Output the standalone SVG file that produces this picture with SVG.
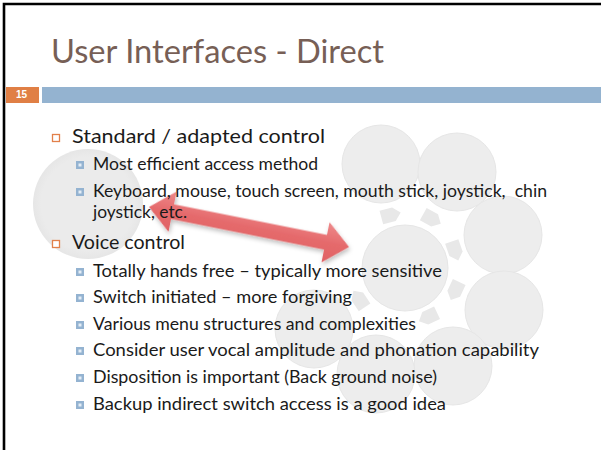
<svg xmlns="http://www.w3.org/2000/svg" width="601" height="450" viewBox="0 0 601 450">
<style>
  .t1 { font-family: "Lato", "Liberation Sans", sans-serif; font-size: 20px; fill: #1a1a1a; }
  .t2 { font-family: "Lato", "Liberation Sans", sans-serif; font-size: 18px; fill: #1a1a1a; }
  .circ { fill: #ededed; stroke: #e6e6e6; stroke-width: 1; }
  .chev { fill: #e8e8e8; }
  .b1 { fill: #ffffff; stroke: #e2804a; stroke-width: 1.3; }
  .b2 { fill: #94b3d1; }
  .b2i { fill: #e4edf6; }
</style>
<defs>
  <radialGradient id="lc" cx="0.5" cy="0.5" r="0.5">
    <stop offset="0.85" stop-color="#ebebeb"/>
    <stop offset="1" stop-color="#e6e6e6"/>
  </radialGradient>
  <linearGradient id="ag" x1="0" y1="0" x2="0" y2="1">
    <stop offset="0" stop-color="#ee8a8b"/>
    <stop offset="0.5" stop-color="#e56a6c"/>
    <stop offset="1" stop-color="#e06264"/>
  </linearGradient>
  <filter id="sh" x="-20%" y="-40%" width="140%" height="180%">
    <feDropShadow dx="1.5" dy="2.5" stdDeviation="2" flood-color="#000" flood-opacity="0.25"/>
  </filter>
  <polygon id="chv" points="-10,-7 3,-7 10,0 3,7 -10,7"/>
</defs>
<rect x="0" y="0" width="601" height="450" fill="#ffffff"/>
<path d="M4,450 V4 H601" fill="none" stroke="#000" stroke-width="2.6"/>

<g id="title">
  <text x="51" y="63" font-family="Lato, 'Liberation Sans', sans-serif" font-size="32" fill="#775f56" textLength="333" lengthAdjust="spacingAndGlyphs">User Interfaces - Direct</text>
</g>
<g id="header-bar">
  <rect x="6" y="87" width="33" height="16" fill="#e07f45"/>
  <rect x="42" y="87" width="559" height="16" fill="#94b3d0"/>
  <text x="16" y="98" font-family="'Liberation Sans', Arial, sans-serif" font-size="10" font-weight="bold" fill="#ffffff">15</text>
</g>

<g id="circles">
  <circle cx="88" cy="204" r="55" fill="url(#lc)"/>
  <circle class="circ" cx="381" cy="164" r="39"/>
  <circle class="circ" cx="457" cy="172" r="39"/>
  <circle class="circ" cx="503" cy="235" r="39"/>
  <circle class="circ" cx="504" cy="310" r="39"/>
  <circle class="circ" cx="453" cy="366" r="39"/>
  <circle class="circ" cx="376" cy="374" r="39"/>
  <circle class="circ" cx="314" cy="329" r="39"/>
  <circle class="circ" cx="405" cy="268" r="43"/>
</g>
<g id="cycle-arrows">
  <use href="#chv" class="chev" transform="translate(391,215) rotate(-15)"/>
  <use href="#chv" class="chev" transform="translate(432,219) rotate(29)"/>
  <use href="#chv" class="chev" transform="translate(455,251) rotate(71)"/>
  <use href="#chv" class="chev" transform="translate(455,291) rotate(115)"/>
  <use href="#chv" class="chev" transform="translate(428,317) rotate(155)"/>
  <use href="#chv" class="chev" transform="translate(359,299) rotate(236)"/>
</g>

<g id="connectors">
  <polygon filter="url(#sh)" fill="url(#ag)" transform="translate(149,207) rotate(11.3)" points="0,0 24,-20.5 24,-7.5 180,-7.5 180,-20.5 204,0 180,20.5 180,7.5 24,7.5 24,20.5"/>
</g>

<g id="bullets">
  <rect class="b1" x="52.5" y="134.5" width="7" height="7"/>
  <rect class="b1" x="52.5" y="240.5" width="7" height="7"/>
  <g id="sub-bullets">
    <rect class="b2" x="76" y="161" width="8" height="8"/><rect class="b2i" x="78.5" y="163.5" width="3" height="3"/>
    <rect class="b2" x="76" y="188" width="8" height="8"/><rect class="b2i" x="78.5" y="190.5" width="3" height="3"/>
    <rect class="b2" x="76" y="268" width="8" height="8"/><rect class="b2i" x="78.5" y="270.5" width="3" height="3"/>
    <rect class="b2" x="76" y="294" width="8" height="8"/><rect class="b2i" x="78.5" y="296.5" width="3" height="3"/>
    <rect class="b2" x="76" y="321" width="8" height="8"/><rect class="b2i" x="78.5" y="323.5" width="3" height="3"/>
    <rect class="b2" x="76" y="347" width="8" height="8"/><rect class="b2i" x="78.5" y="349.5" width="3" height="3"/>
    <rect class="b2" x="76" y="374" width="8" height="8"/><rect class="b2i" x="78.5" y="376.5" width="3" height="3"/>
    <rect class="b2" x="76" y="401" width="8" height="8"/><rect class="b2i" x="78.5" y="403.5" width="3" height="3"/>
  </g>
</g>

<g id="text">
  <text class="t1" x="72" y="143" textLength="253" lengthAdjust="spacingAndGlyphs">Standard / adapted control</text>
  <text class="t2" x="93" y="170" textLength="225" lengthAdjust="spacingAndGlyphs">Most efficient access method</text>
  <text class="t2" x="93" y="197" textLength="454" lengthAdjust="spacingAndGlyphs" xml:space="preserve" style="white-space:pre">Keyboard, mouse, touch screen, mouth stick, joystick,  chin</text>
  <text class="t2" x="93" y="218" textLength="94" lengthAdjust="spacingAndGlyphs">joystick, etc.</text>
  <text class="t1" x="72" y="249" textLength="113" lengthAdjust="spacingAndGlyphs">Voice control</text>
  <text class="t2" x="93" y="277" textLength="349" lengthAdjust="spacingAndGlyphs">Totally hands free – typically more sensitive</text>
  <text class="t2" x="93" y="303" textLength="259" lengthAdjust="spacingAndGlyphs">Switch initiated – more forgiving</text>
  <text class="t2" x="93" y="330" textLength="323" lengthAdjust="spacingAndGlyphs">Various menu structures and complexities</text>
  <text class="t2" x="93" y="356" textLength="446" lengthAdjust="spacingAndGlyphs">Consider user vocal amplitude and phonation capability</text>
  <text class="t2" x="93" y="383" textLength="344" lengthAdjust="spacingAndGlyphs">Disposition is important (Back ground noise)</text>
  <text class="t2" x="93" y="410" textLength="353" lengthAdjust="spacingAndGlyphs">Backup indirect switch access is a good idea</text>
</g>
</svg>
